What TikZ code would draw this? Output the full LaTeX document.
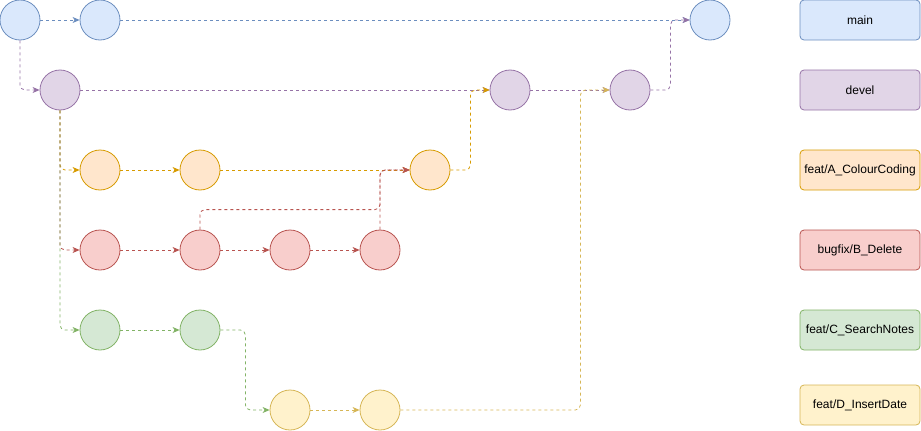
\documentclass[tikz,border=0pt]{standalone}
\usepackage{fontspec}
\setmainfont{Liberation Sans}
\usetikzlibrary{arrows.meta}

\definecolor{mainF}{HTML}{DAE8FC}\definecolor{mainS}{HTML}{6C8EBF}
\definecolor{develF}{HTML}{E1D5E7}\definecolor{develS}{HTML}{9673A6}
\definecolor{featAF}{HTML}{FFE6CC}\definecolor{featAS}{HTML}{D79B00}
\definecolor{bugBF}{HTML}{F8CECC}\definecolor{bugBS}{HTML}{B85450}
\definecolor{featCF}{HTML}{D5E8D4}\definecolor{featCS}{HTML}{82B366}
\definecolor{featDF}{HTML}{FFF2CC}\definecolor{featDS}{HTML}{D6B656}

\begin{document}
\begin{tikzpicture}[x=1pt, y=-1pt,
    commit/.style={circle, draw=#1S, fill=#1F, minimum size=40pt, inner sep=0pt, line width=0.8pt},
    branch/.style={draw=#1S, fill=#1F, rounded corners=4pt, minimum width=120pt, minimum height=40pt,
        line width=0.8pt, font=\fontsize{12}{14}\selectfont},
    flow/.style={draw=#1S, line width=0.8pt, dash pattern=on 3pt off 3pt, rounded corners=5pt,
        -{Stealth[length=7pt, width=6pt, inset=2pt]}}]
    \useasboundingbox (0,0) rectangle (921,431);

    % commits
    \node[commit=main] (m1) at (20,20) {};
    \node[commit=main] (m2) at (100,20) {};
    \node[commit=main] (m3) at (710,20) {};
    \node[commit=devel] (d1) at (60,90) {};
    \node[commit=devel] (d2) at (510,90) {};
    \node[commit=devel] (d3) at (630,90) {};
    \node[commit=featA] (a1) at (100,170) {};
    \node[commit=featA] (a2) at (200,170) {};
    \node[commit=featA] (a3) at (430,170) {};
    \node[commit=bugB] (b1) at (100,250) {};
    \node[commit=bugB] (b2) at (200,250) {};
    \node[commit=bugB] (b3) at (290,250) {};
    \node[commit=bugB] (b4) at (380,250) {};
    \node[commit=featC] (c1) at (100,330) {};
    \node[commit=featC] (c2) at (200,330) {};
    \node[commit=featD] (e1) at (290,410) {};
    \node[commit=featD] (e2) at (380,410) {};

    % branch labels
    \node[branch=main] (lmain) at (860,20) {main};
    \node[branch=devel] (ldevel) at (860,90) {devel};
    \node[branch=featA] (lfeatA) at (860,170) {feat/A\_ColourCoding};
    \node[branch=bugB] (lbugB) at (860,250) {bugfix/B\_Delete};
    \node[branch=featC] (lfeatC) at (860,330) {feat/C\_SearchNotes};
    \node[branch=featD] (lfeatD) at (860,405) {feat/D\_InsertDate};

    % main
    \draw[flow=main] (m1) -- (m2);
    \draw[flow=main] (m2) -- (m3);
    \draw[flow=devel] (m1.south) |- (d1.west);
    % devel
    \draw[flow=devel] (d1) -- (d2);
    \draw[flow=devel] (d2) -- (d3);
    \draw[flow=devel] (d3.east) -- ++(20,0) |- (m3.west);
    % feature branches off devel
    \draw[flow=featA] (d1.south) |- (a1.west);
    \draw[flow=bugB] (d1.south) |- (b1.west);
    \draw[flow=featC] (d1.south) |- (c1.west);
    \draw[flow=featA] (a1) -- (a2);
    \draw[flow=featA] (a2) -- (a3);
    \draw[flow=featA] (a3.east) -- ++(20,0) |- (d2.west);
    \draw[flow=bugB] (b1) -- (b2);
    \draw[flow=bugB] (b2) -- (b3);
    \draw[flow=bugB] (b3) -- (b4);
    \draw[flow=bugB] (b2.north) -- ++(0,-20) -| (b4.north |- a3.west) -- (a3.west);
    \draw[flow=bugB] (b4.north) |- (a3.west);
    \draw[flow=featC] (c1) -- (c2);
    \draw[flow=featC] (c2.east) -- ++(25,0) |- (e1.west);
    \draw[flow=featD] (e1) -- (e2);
    \draw[flow=featD] (e2.east) -- ++(180,0) |- (d3.west);
\end{tikzpicture}
\end{document}
